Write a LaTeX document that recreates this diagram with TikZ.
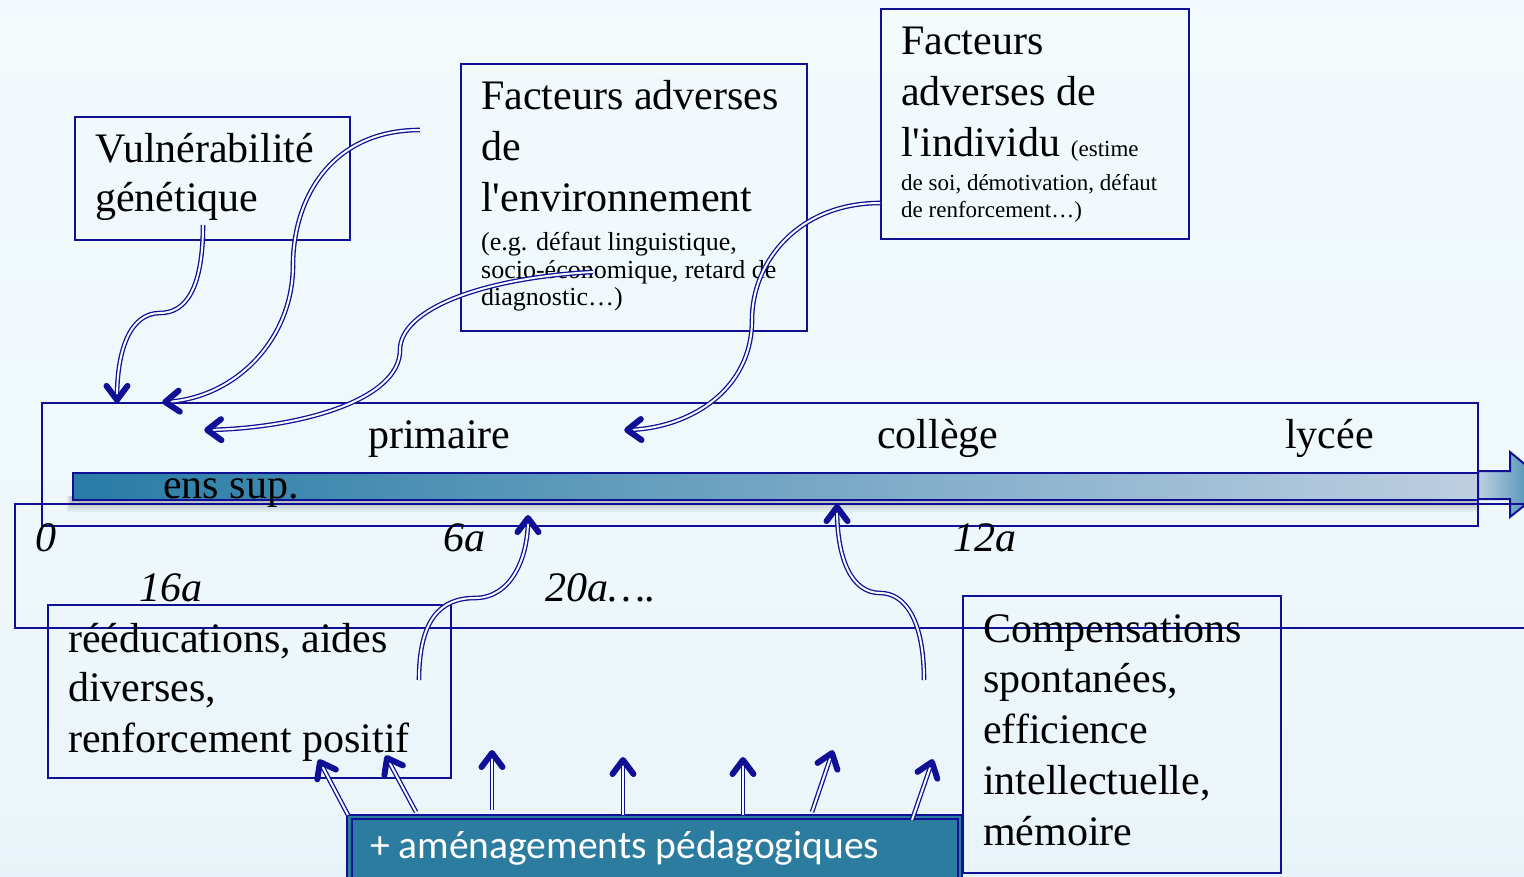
\documentclass[tikz,border=0pt]{standalone}
\usepackage{fontspec}
\setmainfont{Liberation Serif}
\newfontfamily\padfont{Carlito}
\usetikzlibrary{decorations.markings}

\definecolor{frameblue}{RGB}{16,16,150}
\definecolor{barteal}{RGB}{40,124,166}
\definecolor{barmid}{RGB}{100,158,198}
\definecolor{barlight}{RGB}{190,207,225}
\definecolor{padteal}{RGB}{44,124,160}
\definecolor{bgtop}{RGB}{246,252,254}
\definecolor{bgmid}{RGB}{236,246,250}
\definecolor{bgbot}{RGB}{205,229,238}

% page background: almost white at the top, light blue towards the bottom
\pgfdeclareverticalshading{pagebg}{100bp}{color(0bp)=(bgbot); color(30bp)=(bgmid); color(100bp)=(bgtop)}

\tikzset{
  frame/.style={draw=frameblue, line width=2pt, rectangle, inner sep=0pt, anchor=north west},
  big/.style={anchor=base west, inner sep=0pt, font=\fontsize{42}{50}\selectfont},
  mid/.style={anchor=base west, inner sep=0pt, font=\fontsize{26}{29}\selectfont},
  low/.style={anchor=base west, inner sep=0pt, font=\fontsize{23}{27}\selectfont},
  age/.style={big, font=\fontsize{42}{50}\selectfont\itshape},
  % hollow double stroke of a connector
  linkbody/.style={draw=frameblue, line width=1.3pt, double=bgtop, double distance=2pt,
    shorten >=2pt},
  % heavy open chevron laid at the end of the same path
  linkhead/.style={postaction={decorate, decoration={markings,
    mark=at position 0.9995 with {\draw[frameblue, line width=6pt, line cap=round,
      line join=round]
      (-14pt,10.5pt) -- (0pt,0pt) -- (-14pt,-10.5pt);}}}},
}
% a double-lined connector with a heavy open head
\newcommand\influence[1]{\draw[linkbody] #1; \path[linkhead] #1;}

\begin{document}
\begin{tikzpicture}[x=1pt,y=-1pt]
\useasboundingbox (0,0) rectangle (1524,877);
\clip (0,0) rectangle (1524,877);
\shade[shading=pagebg] (0,0) rectangle (1524,877);

% ---- time axis ----
\foreach \k in {1,...,6}
  \fill[black, opacity=0.045] (73-\k,496) rectangle (1478,500+2*\k);
\shade[left color=barteal, middle color=barmid, right color=barlight, draw=frameblue, line width=2pt]
  (73,473) rectangle (1478,500);
\shade[left color=barlight, right color=barteal, draw=frameblue, line width=2pt]
  (1478,471) -- (1510,471) -- (1510,452) -- (1550,485) -- (1510,517) -- (1510,499) -- (1478,499) -- cycle;

\node[frame, minimum width=1436pt, minimum height=123pt] (stages) at (41,402) {};
\node[frame, minimum width=1560pt, minimum height=124pt] (ages) at (14,503) {};

\node[big] (prim) at (368,448) {primaire};
\node[big] (coll) at (877,448) {collège};
\node[big] (lyc)  at (1285,448) {lycée};
\node[big] (sup)  at (163,498) {ens sup.};
\node[age] (a0)   at (35,551) {0};
\node[age] (a6)   at (443,551) {6a};
\node[age] (a12)  at (953,551) {12a};
\node[age] (a16)  at (139,601) {16a};
\node[age] (a20)  at (545,601) {20a….};

% ---- factor boxes ----
\node[frame, minimum width=275pt, minimum height=123pt] (vul) at (74,116) {};
\node[big] (vul1) at (95,163) {Vulnérabilité};
\node[big] (vul2) at (95,212) {génétique};

\node[frame, minimum width=346pt, minimum height=267pt] (env) at (460,63) {};
\node[big] (env1) at (481,110) {Facteurs adverses};
\node[big] (env2) at (481,161) {de};
\node[big] (env3) at (481,212) {l\textquotesingle environnement};
\node[mid] (env4) at (481,251) {(e.g. défaut linguistique,};
\node[mid] (env5) at (481,279) {socio-économique, retard de};
\node[mid] (env6) at (481,306) {diagnostic…)};

\node[frame, minimum width=308pt, minimum height=230pt] (ind) at (880,8) {};
\node[big] (ind1) at (901,55) {Facteurs};
\node[big] (ind2) at (901,106) {adverses de};
\node[big] (ind3) at (901,157) {l\textquotesingle individu {\fontsize{23}{27}\selectfont (estime}};
\node[low] (ind4) at (901,191) {de soi, démotivation, défaut};
\node[low] (ind5) at (901,218) {de renforcement…)};

% ---- help boxes ----
\node[frame, minimum width=403pt, minimum height=173pt] (reed) at (47,604) {};
\node[big] (reed1) at (68,652) {rééducations, aides};
\node[big] (reed2) at (68,701) {diverses,};
\node[big] (reed3) at (68,752) {renforcement positif};

\node[frame, minimum width=318pt, minimum height=277pt] (comp) at (962,595) {};
\node[big] (comp1) at (983,642) {Compensations};
\node[big] (comp2) at (983,692) {spontanées,};
\node[big] (comp3) at (983,743) {efficience};
\node[big] (comp4) at (983,794) {intellectuelle,};
\node[big] (comp5) at (983,845) {mémoire};

\fill[padteal] (347,815) rectangle (962,885);
\draw[frameblue, line width=1.6pt] (347,815) rectangle (962,885);
\draw[frameblue, line width=1.6pt] (352,819) rectangle (958,885);
\node[anchor=base west, inner sep=0pt, text=white, font=\padfont\fontsize{39.5}{45}\selectfont] (pad) at (370,858) {+ aménagements pédagogiques};

% ---- connector ends ----
\coordinate (vulout) at (203,225);
\coordinate (vulin)  at (117,400);
\coordinate (envout) at (420,130);
\coordinate (envin)  at (165,402);
\coordinate (ecoout) at (593,272);
\coordinate (ecoin)  at (207,430);
\coordinate (indout) at (880,203);
\coordinate (indin)  at (627,430);
\coordinate (reedout) at (419,680);
\coordinate (reedin)  at (528,518);
\coordinate (compout) at (924,680);
\coordinate (compin)  at (837,507);

\coordinate (p1) at (348,815);  \coordinate (q1) at (320,762);
\coordinate (p2) at (416,812);  \coordinate (q2) at (387,758);
\coordinate (p3) at (492,810);  \coordinate (q3) at (492,753);
\coordinate (p4) at (623,815);  \coordinate (q4) at (623,760);
\coordinate (p5) at (743,815);  \coordinate (q5) at (743,760);
\coordinate (p6) at (812,812);  \coordinate (q6) at (832,753);
\coordinate (p7) at (912,820);  \coordinate (q7) at (932,762);

% ---- curved influences ----
\influence{(vulout) .. controls (203,290) and (185,313) .. (160,313)
                    .. controls (130,313) and (117,350) .. (vulin)}
\influence{(envout) .. controls (330,130) and (293,200) .. (293,265)
                    .. controls (293,340) and (235,398) .. (envin)}
\influence{(ecoout) .. controls (480,278) and (400,310) .. (400,350)
                    .. controls (400,400) and (300,428) .. (ecoin)}
\influence{(indout) .. controls (800,203) and (752,260) .. (752,320)
                    .. controls (752,390) and (690,428) .. (indin)}
\influence{(reedout) .. controls (419,620) and (440,598) .. (475,598)
                     .. controls (510,598) and (528,560) .. (reedin)}
\influence{(compout) .. controls (924,620) and (905,593) .. (880,593)
                     .. controls (852,593) and (837,560) .. (compin)}

% ---- support arrows ----
\foreach \i in {1,...,7}
  {\influence{(p\i) -- (q\i)}}
\end{tikzpicture}
\end{document}
